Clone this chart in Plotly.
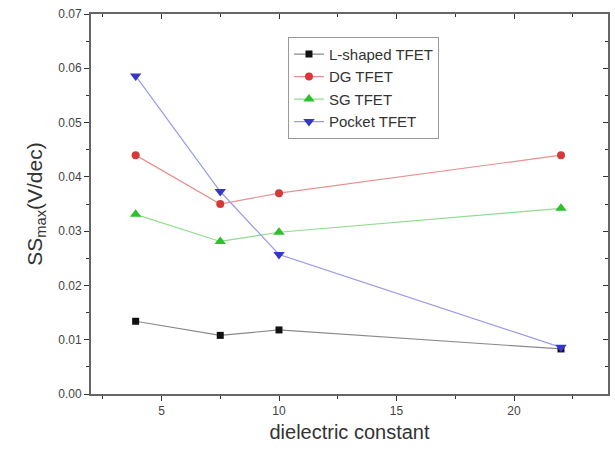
import plotly.graph_objects as go

x_vals = [3.9, 7.5, 10, 22]
l_shaped = [0.0134, 0.0108, 0.0118, 0.0083]
dg = [0.0440, 0.0350, 0.0370, 0.0440]
sg = [0.0331, 0.0281, 0.0298, 0.0342]
pocket = [0.0586, 0.0373, 0.0257, 0.0086]

names = ["L-shaped TFET", "DG TFET", "SG TFET", "Pocket TFET"]
series = [l_shaped, dg, sg, pocket]
mcolors = ["#111111", "#d43a3a", "#2cc02c", "#3636c8"]
lcolors = ["#8a8a8a", "#e89090", "#90dc90", "#9a9ae8"]
symbols = ["square", "circle", "triangle-up", "triangle-down"]
msizes = [7, 8, 10, 10]

fig = go.Figure()
for n, s, mc, lc, sym, ms in zip(names, series, mcolors, lcolors, symbols, msizes):
    fig.add_trace(go.Scatter(x=x_vals, y=s, name=n, mode="lines+markers",
                             line=dict(color=lc, width=1.2),
                             marker=dict(symbol=sym, color=mc, size=ms, line=dict(width=0))))

# invisible trace for mirrored axes
fig.add_trace(go.Scatter(x=[2], y=[0], xaxis="x2", yaxis="y2", mode="markers",
                         marker=dict(opacity=0), showlegend=False, hoverinfo="skip"))

axcol = "#666666"
font_col = "#444444"
fig.update_layout(
    width=615, height=454,
    margin=dict(l=91, r=7, t=11, b=60),
    paper_bgcolor="white", plot_bgcolor="white",
    font=dict(family="Liberation Sans, Arial, sans-serif", color=font_col),
    xaxis=dict(range=[2, 24], tickvals=[5, 10, 15, 20], ticks="outside", ticklen=5,
               tickwidth=1.2, tickcolor="#333", showline=True, linecolor=axcol, linewidth=2,
               showgrid=False, zeroline=False, tickfont=dict(size=12, color=font_col),
               minor=dict(tickvals=[2.5, 7.5, 12.5, 17.5, 22.5], ticks="outside", ticklen=3,
                          tickcolor="#333", showgrid=False),
               title=dict(text="dielectric constant", font=dict(size=20, color="#333"), standoff=8)),
    yaxis=dict(range=[0, 0.07], tickvals=[0, 0.01, 0.02, 0.03, 0.04, 0.05, 0.06, 0.07],
               tickformat=".2f", ticks="outside", ticklen=5, tickwidth=1.2, tickcolor="#333",
               showline=True, linecolor=axcol, linewidth=2, showgrid=False, zeroline=False,
               tickfont=dict(size=12, color=font_col),
               minor=dict(tickvals=[0.005, 0.015, 0.025, 0.035, 0.045, 0.055, 0.065],
                          ticks="outside", ticklen=3, tickcolor="#333", showgrid=False),
               title=dict(text="SS<sub>max</sub>(V/dec)", font=dict(size=21, color="#333"), standoff=10)),
    xaxis2=dict(range=[2, 24], overlaying="x", side="top", anchor="y", tickvals=[5, 10, 15, 20],
                ticks="inside", ticklen=5, tickcolor="#333", showticklabels=False,
                showline=True, linecolor=axcol, linewidth=2, showgrid=False, zeroline=False,
                minor=dict(tickvals=[2.5, 7.5, 12.5, 17.5, 22.5], ticks="inside", ticklen=3,
                           tickcolor="#333", showgrid=False)),
    yaxis2=dict(range=[0, 0.07], overlaying="y", side="right", anchor="x",
                tickvals=[0, 0.01, 0.02, 0.03, 0.04, 0.05, 0.06, 0.07],
                ticks="inside", ticklen=5, tickcolor="#333", showticklabels=False,
                showline=True, linecolor=axcol, linewidth=2, showgrid=False, zeroline=False,
                minor=dict(tickvals=[0.005, 0.015, 0.025, 0.035, 0.045, 0.055, 0.065],
                           ticks="inside", ticklen=3, tickcolor="#333", showgrid=False)),
    legend=dict(x=0.381, y=0.94, xanchor="left", yanchor="top",
                bordercolor="#999999", borderwidth=1, bgcolor="white",
                font=dict(size=15, color="#333"), itemwidth=30, tracegroupgap=0),
    showlegend=True,
)

fig.write_html("out.html")
